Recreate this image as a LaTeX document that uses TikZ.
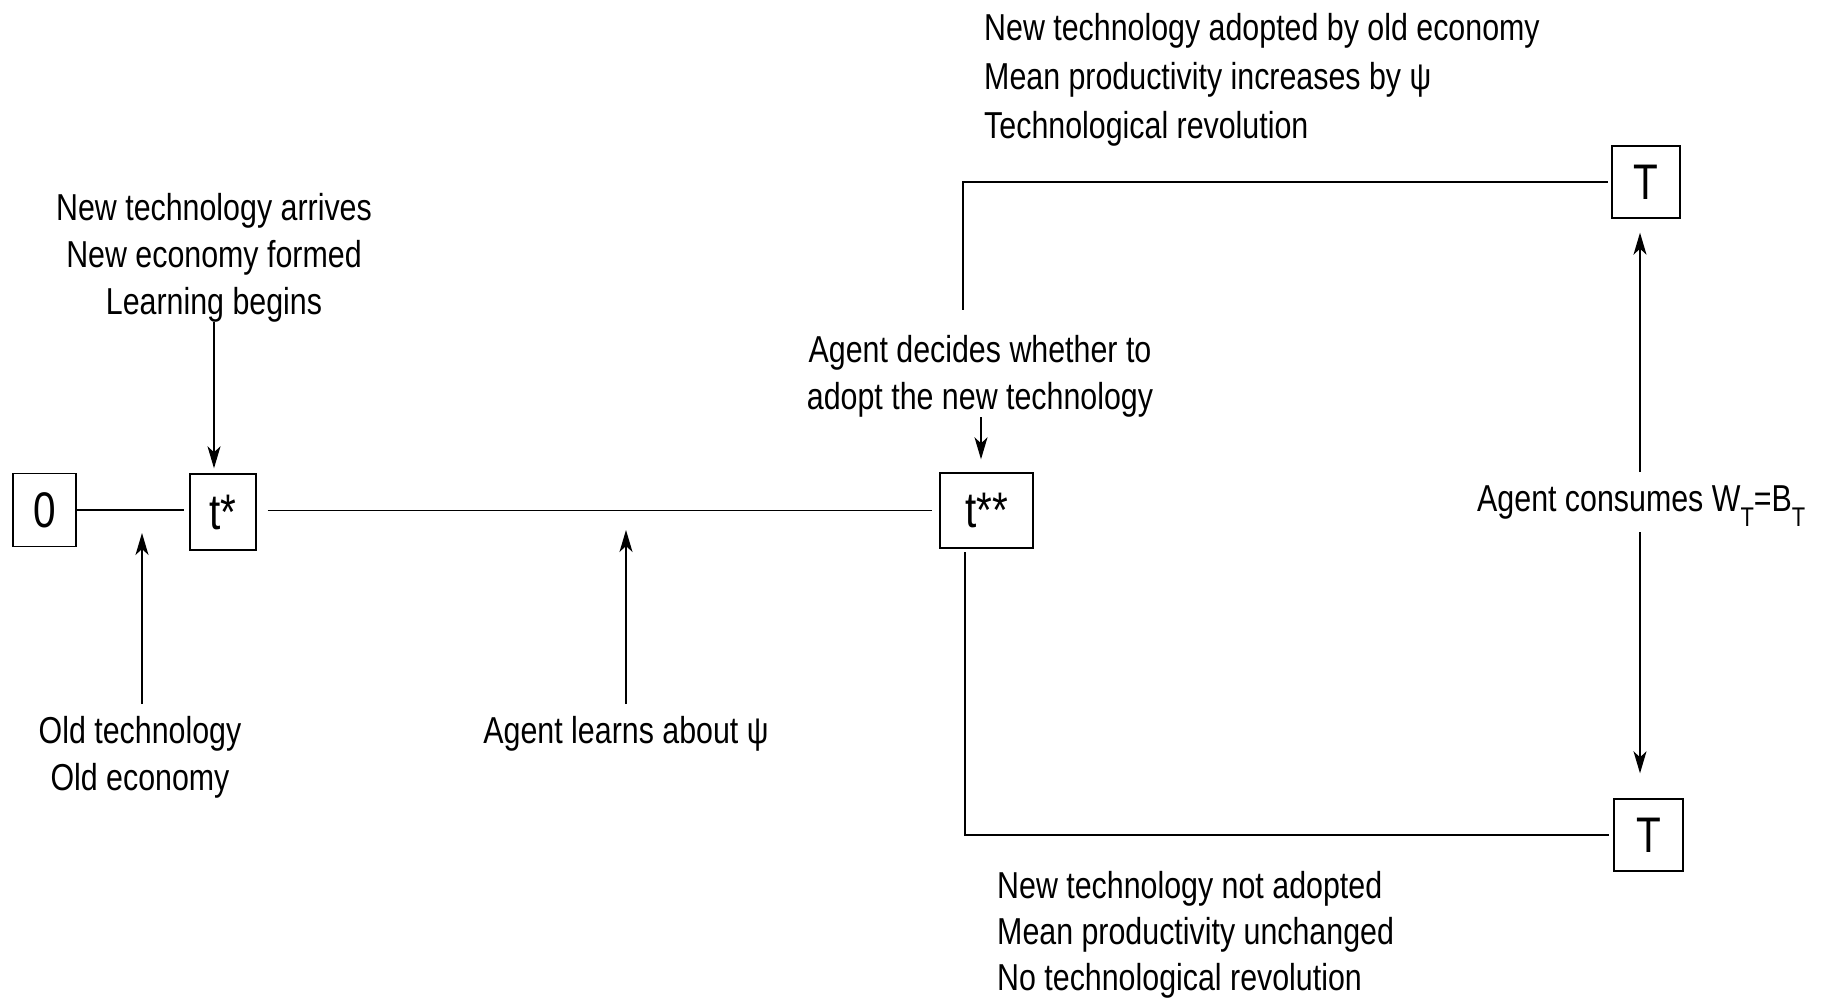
\documentclass[tikz,border=0pt]{standalone}
\usepackage{fontspec}
\setmainfont[FakeStretch=0.81]{Liberation Sans}
\usetikzlibrary{arrows.meta}
\begin{document}
\begin{tikzpicture}[x=1pt,y=-1pt,
  box/.style={draw, line width=1.4pt, inner sep=0pt, font=\fontsize{50}{50}\selectfont},
  lbl/.style={inner sep=0pt, font=\fontsize{37.5}{47}\selectfont},
  ln/.style={line width=1.5pt},
  arr/.style={line width=1.4pt, -{Stealth[length=22pt,width=13pt,inset=6pt]}}]
\useasboundingbox (0,0) rectangle (1824,1000);
% boxes
\node[box, minimum width=63pt, minimum height=73pt] (b0) at (44.5,510) {0};
\node[box, minimum width=66pt, minimum height=76pt] (ts) at (223,512) {t*};
\node[box, minimum width=93pt, minimum height=75pt] (tss) at (986.5,510.5) {t**};
\node[box, minimum width=68pt, minimum height=72pt] (Tu) at (1646,182) {T};
\node[box, minimum width=69pt, minimum height=72pt] (Tl) at (1648.5,835) {T};
% texts (base anchor = baseline of last line)
\node[lbl, anchor=base, align=center] (t1) at (214,315) {New technology arrives\\New economy formed\\Learning begins};
\node[lbl, anchor=base, align=center] (t2) at (140,790) {Old technology\\Old economy};
\node[lbl, anchor=base] (t3) at (626,743) {Agent learns about ψ};
\node[lbl, anchor=base, align=center] (t4) at (980,409) {Agent decides whether to\\adopt the new technology};
\node[lbl, anchor=base west, align=left, font=\fontsize{37.5}{49}\selectfont] (t5) at (984,139) {New technology adopted by old economy\\Mean productivity increases by ψ\\Technological revolution};
\node[lbl, anchor=base west, align=left, font=\fontsize{37.5}{46}\selectfont] (t6) at (997,990) {New technology not adopted\\Mean productivity unchanged\\No technological revolution};
\node[lbl, anchor=base west] (t7) at (1477,511) {Agent consumes W\raisebox{-15pt}{\fontsize{27}{27}\selectfont T}=B\raisebox{-15pt}{\fontsize{27}{27}\selectfont T}};
% timeline
\draw[ln, shorten >=5pt] (b0.east) -- (b0.east -| ts.west);
\draw[ln, shorten <=11pt, shorten >=7pt] (tss.west -| ts.east) -- (tss.west);
\coordinate (ub) at (963,310);
\draw[ln, shorten >=3pt] (ub) |- (Tu.west);
\coordinate (lb) at (965,552);
\draw[ln, shorten >=4pt] (lb) |- (Tl.west);
% arrows
\coordinate (a1s) at (214,322);
\draw[arr, shorten >=5pt] (a1s) -- (a1s |- ts.north);
\coordinate (a2s) at (142,704);
\coordinate (a2e) at (142,533);
\draw[arr] (a2s) -- (a2e);
\coordinate (a3s) at (626,704);
\coordinate (a3e) at (626,530);
\draw[arr] (a3s) -- (a3e);
\coordinate (a4s) at (981,417);
\draw[arr, shorten >=13pt] (a4s) -- (a4s |- tss.north);
\coordinate (a5s) at (1640,472);
\draw[arr, shorten >=14pt] (a5s) -- (a5s |- Tu.south);
\coordinate (a6s) at (1640,532);
\draw[arr, shorten >=25pt] (a6s) -- (a6s |- Tl.north);
\end{tikzpicture}
\end{document}
